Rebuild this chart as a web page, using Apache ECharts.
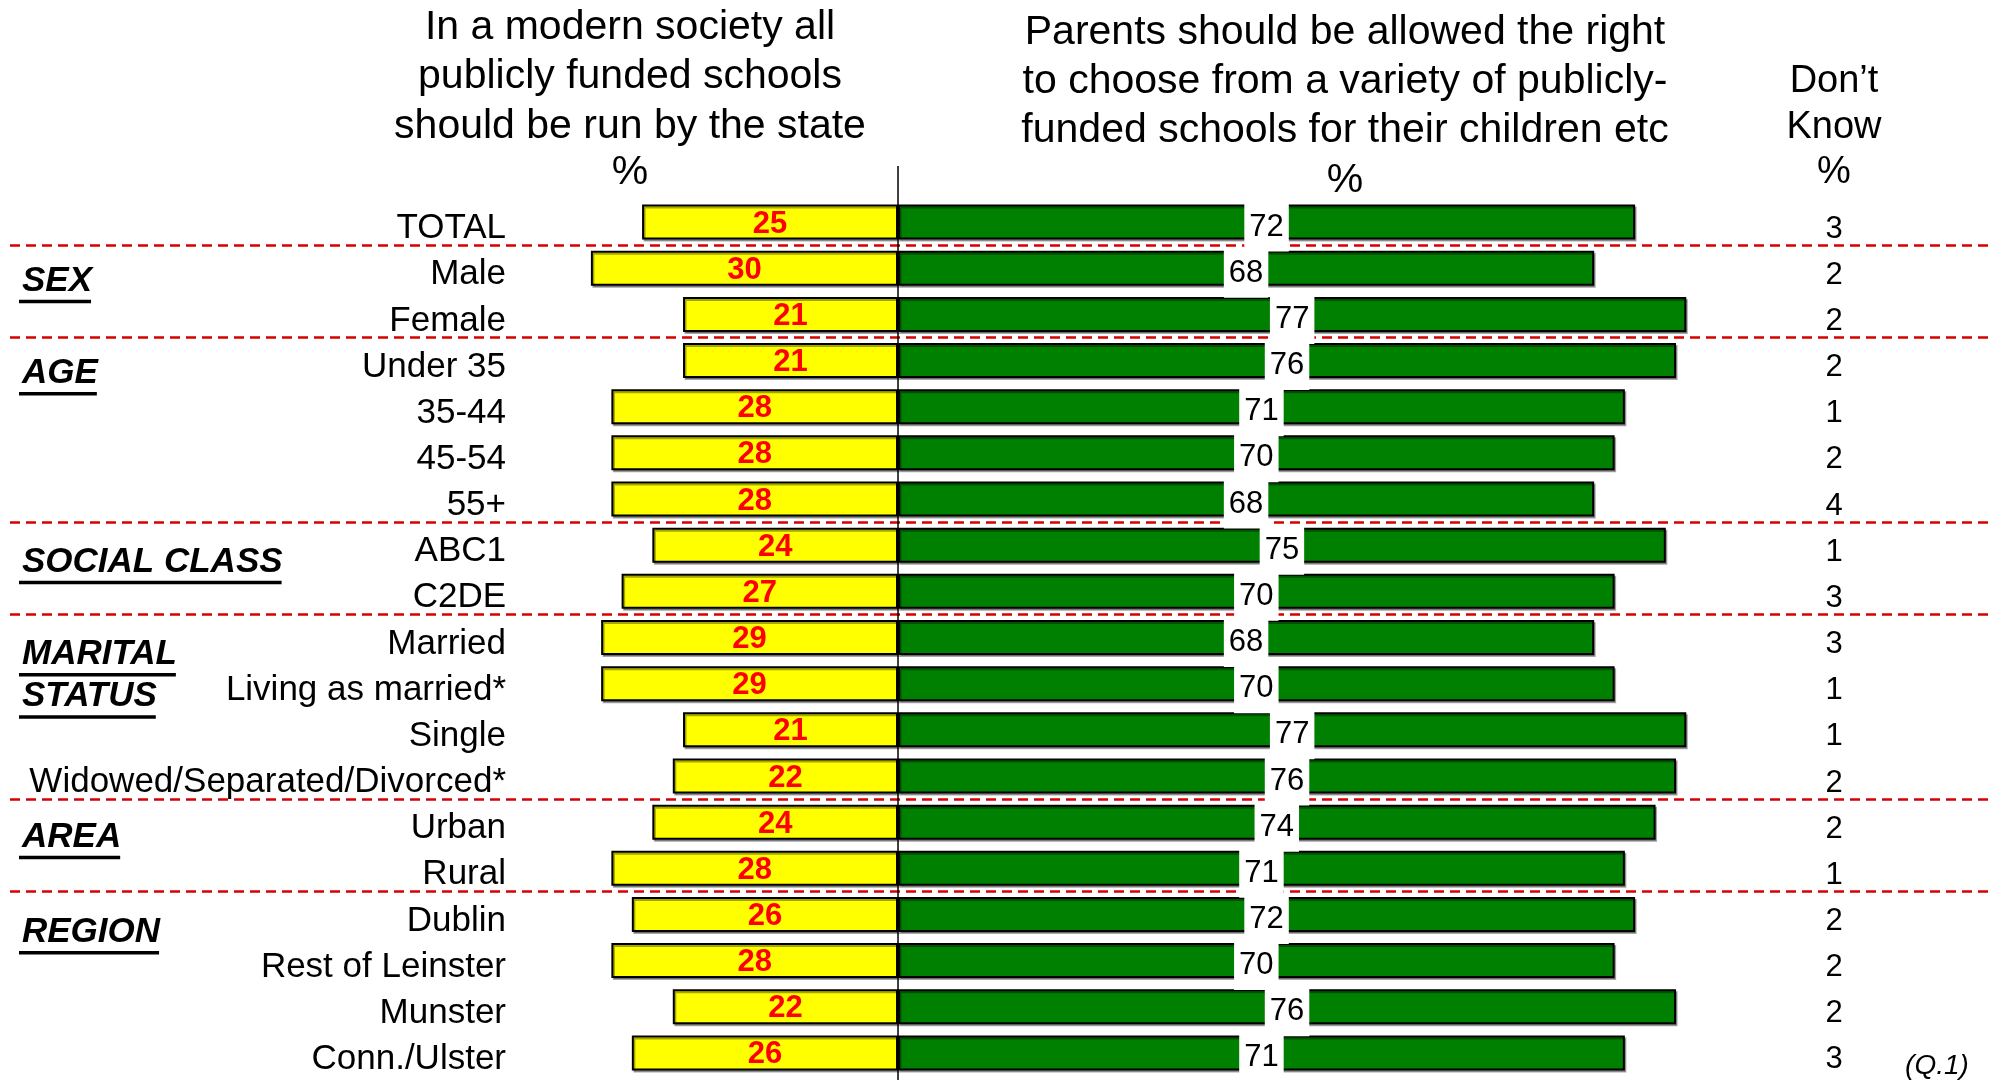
<!DOCTYPE html>
<html>
<head>
<meta charset="utf-8">
<script src="https://cdn.jsdelivr.net/npm/echarts@6/dist/echarts.min.js"></script>
<style>
  html, body { margin: 0; padding: 0; background: #fff; }
  #main { width: 2004px; height: 1080px; }
</style>
</head>
<body>
<div id="main"></div>
<script>
// ---- data ----
const categories = ['TOTAL', 'Male', 'Female', 'Under 35', '35-44', '45-54', '55+', 'ABC1', 'C2DE',
  'Married', 'Living as married*', 'Single', 'Widowed/Separated/Divorced*', 'Urban', 'Rural',
  'Dublin', 'Rest of Leinster', 'Munster', 'Conn./Ulster'];
const stateRun = [25, 30, 21, 21, 28, 28, 28, 24, 27, 29, 29, 21, 22, 24, 28, 26, 28, 22, 26];
const parentsChoice = [72, 68, 77, 76, 71, 70, 68, 75, 70, 68, 70, 77, 76, 74, 71, 72, 70, 76, 71];
const dontKnow = [3, 2, 2, 2, 1, 2, 4, 1, 3, 3, 1, 1, 2, 2, 1, 2, 2, 2, 3];
const groupNames = ['SEX', 'AGE', 'SOCIAL CLASS', 'MARITAL', 'STATUS', 'AREA', 'REGION'];
const groupRows = [1, 3, 7, 9, 10, 13, 15];
const separatorBefore = [1, 3, 7, 9, 13, 15];
const headerLeft = ['In a modern society all', 'publicly funded schools', 'should be run by the state', '%'];
const headerRight = ['Parents should be allowed the right', 'to choose from a variety of publicly-', 'funded schools for their children etc', '%'];
const headerDK = ['Don\u2019t', 'Know', '%'];
const footnote = '(Q.1)';

// ---- layout (styling only) ----
const FONT = '"Liberation Sans", Arial, Helvetica, sans-serif';
const groupOffsets = [13, 13, 17, 17, 13, 15, 18];
const GRID_TOP = 199, GRID_BOTTOM = 4;
const band = (1080 - GRID_TOP - GRID_BOTTOM) / categories.length;
// rows covered by the separator grid: up to the last separator (its bottom edge is that separator)
const sepRows = separatorBefore[separatorBefore.length - 1];

const chart = echarts.init(document.getElementById('main'));

const option = {
  animation: false,
  backgroundColor: '#fff',
  textStyle: { fontFamily: FONT },
  grid: [
    { left: 509, right: 287, top: GRID_TOP, bottom: GRID_BOTTOM },
    { left: 10, right: 10, top: GRID_TOP, height: band * sepRows }
  ],
  xAxis: [
    { type: 'value', gridIndex: 0, min: -38, max: 80, show: false },
    { type: 'value', gridIndex: 1, min: 0, max: 1, show: false }
  ],
  yAxis: [
    {
      type: 'category', gridIndex: 0, data: categories, inverse: true,
      axisLine: { show: false }, axisTick: { show: false },
      axisLabel: { fontSize: 35, color: '#000', fontFamily: FONT, margin: 3,
        verticalAlign: 'top', lineHeight: 13 }
    },
    {
      type: 'category', gridIndex: 0, data: categories, inverse: true, position: 'right',
      axisLine: { show: false }, axisTick: { show: false },
      axisLabel: {
        fontSize: 31, color: '#000', fontFamily: FONT, align: 'center', margin: 117,
        verticalAlign: 'top', lineHeight: 14,
        formatter: function (v, i) { return String(dontKnow[i]); }
      }
    },
    {
      type: 'category', gridIndex: 1, data: categories.slice(0, sepRows), inverse: true,
      axisLine: { show: false }, axisTick: { show: false }, axisLabel: { show: false },
      splitLine: {
        show: true,
        interval: function (i) { return separatorBefore.indexOf(i) >= 0; },
        lineStyle: { color: '#D80000', width: 2.5, type: [10, 6] }
      }
    }
  ],
  series: [
    {
      name: 'State', type: 'bar', xAxisIndex: 0, yAxisIndex: 0,
      data: stateRun.map(function (v) { return -v; }),
      barWidth: 35, barGap: '-100%',
      itemStyle: { color: '#FFFF00', borderColor: '#000', borderWidth: 2,
        shadowColor: 'rgba(0,0,0,0.35)', shadowOffsetX: 1.5, shadowOffsetY: 2, shadowBlur: 0 },
      label: {
        show: true, position: 'inside', color: '#FF0000', fontWeight: 'bold', fontSize: 31, fontFamily: FONT,
        offset: [0, 2],
        formatter: function (p) { return String(stateRun[p.dataIndex]); }
      }
    },
    {
      name: 'Parents', type: 'bar', xAxisIndex: 0, yAxisIndex: 0,
      data: parentsChoice,
      barWidth: 35, barGap: '-100%',
      itemStyle: { color: '#008000', borderColor: '#000', borderWidth: 2,
        shadowColor: 'rgba(0,0,0,0.35)', shadowOffsetX: 1.5, shadowOffsetY: 2, shadowBlur: 0 },
      label: {
        show: true, position: 'inside', color: '#000', fontSize: 31, fontFamily: FONT,
        backgroundColor: '#fff', padding: [3.5, 5, 14.5, 5], offset: [0, 5],
        formatter: function (p) { return String(parentsChoice[p.dataIndex]); }
      }
    }
  ]
};

chart.setOption(option);

// ---- annotations positioned from the chart's scales ----
function measure(text, font) {
  const c = document.createElement('canvas').getContext('2d');
  c.font = font;
  return c.measureText(text).width;
}
function txt(text, x, y, size, extra) {
  const st = Object.assign({
    text: text, fontSize: size, fontFamily: FONT, fill: '#000',
    align: 'center', verticalAlign: 'middle', textAlign: 'center', textVerticalAlign: 'middle'
  }, extra || {});
  return { type: 'text', x: x, y: y, z: 20, style: st };
}

const x0 = chart.convertToPixel({ xAxisIndex: 0 }, 0);
const graphics = [];

// zero line
graphics.push({ type: 'line', z: 1, shape: { x1: x0, y1: 166, x2: x0, y2: 1080 },
  style: { stroke: '#000', lineWidth: 1.5 } });

// headers
const leftY = [27.5, 77, 127, 173];
headerLeft.forEach(function (t, i) { graphics.push(txt(t, 630, leftY[i], 41)); });
const rightY = [33, 82, 131, 181];
headerRight.forEach(function (t, i) { graphics.push(txt(t, 1345, rightY[i], 41)); });
const dkY = [81.5, 128, 173];
headerDK.forEach(function (t, i) { graphics.push(txt(t, 1834, dkY[i], 38)); });

// group labels with underline
const gFont = 'italic bold 35px ' + FONT;
groupNames.forEach(function (name, i) {
  const yc = chart.convertToPixel({ yAxisIndex: 0 }, categories[groupRows[i]]) + groupOffsets[i];
  graphics.push(txt(name, 22, yc, 35, { fontWeight: 'bold', fontStyle: 'italic',
    align: 'left', textAlign: 'left' }));
  const w = measure(name, gFont);
  graphics.push({ type: 'rect', z: 20, shape: { x: 19, y: yc + 18.5, width: w + 2, height: 3.5 },
    style: { fill: '#000' } });
});

// footnote
graphics.push(txt(footnote, 1937, 1066, 28, { fontStyle: 'italic' }));

chart.setOption({ graphic: graphics });
</script>
</body>
</html>
